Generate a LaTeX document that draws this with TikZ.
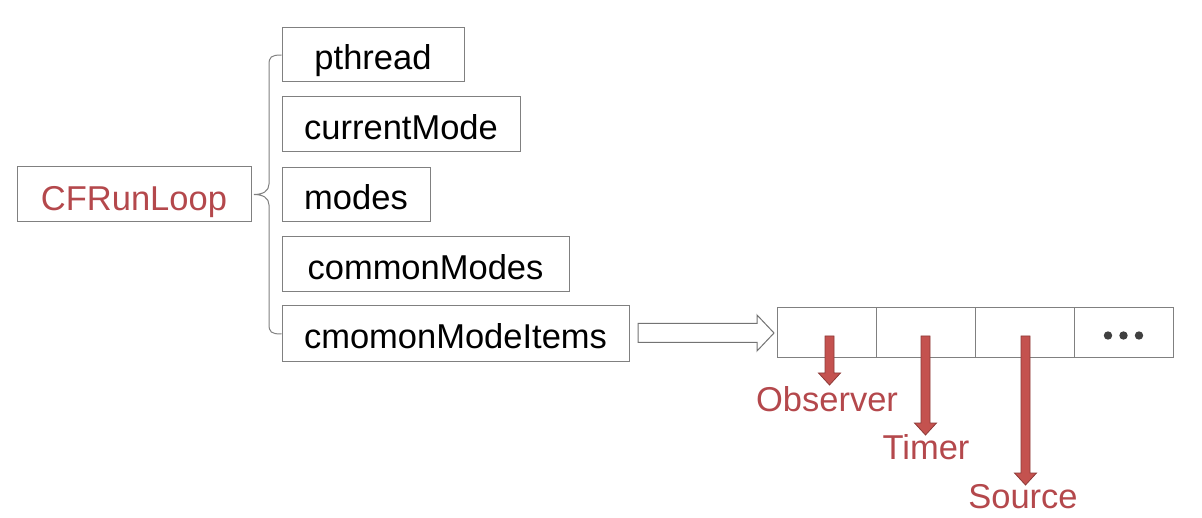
\documentclass[tikz,border=0pt]{standalone}
\usepackage{fontspec}
\setmainfont{Liberation Sans}
\usetikzlibrary{calc}
\definecolor{boxgray}{RGB}{128,128,128}
\definecolor{labred}{RGB}{180,72,76}
\definecolor{arrfill}{RGB}{196,82,79}
\definecolor{arrline}{RGB}{140,58,56}
\definecolor{dotgray}{RGB}{64,64,64}
\newcommand{\redarrow}[3]{%
  \draw[redarr] ({#1-4.5},#2) -- ({#1+4.5},#2) -- ({#1+4.5},{#3-12}) -- ({#1+11},{#3-12}) -- (#1,#3) -- ({#1-11},{#3-12}) -- ({#1-4.5},{#3-12}) -- cycle;}
\tikzset{
  fbox/.style={draw=boxgray, line width=1pt, inner sep=0pt, text height=30pt, text depth=0pt, font=\fontsize{34.5}{41}\selectfont},
  cell/.style={draw=boxgray, line width=1pt, inner sep=0pt, minimum width=99pt, minimum height=50pt},
  lab/.style={text=labred, inner sep=0pt, anchor=base, font=\fontsize{34.5}{41}\selectfont},
  redarr/.style={fill=arrfill, draw=arrline, line width=0.8pt, line join=miter},
  brace/.style={draw=boxgray, line width=1pt},
  hollow/.style={draw=boxgray!90!black, line width=1pt, fill=white, line join=miter}
}
\begin{document}
\begin{tikzpicture}[x=1pt,y=-1pt]
\useasboundingbox (0,0) rectangle (1202,518);
% main box
\node[fbox, text=labred, minimum width=234pt, minimum height=55pt, text height=32pt] (cf) at (134,194.5) {CFRunLoop};
% fields
\node[fbox, minimum width=182pt, minimum height=54pt] (pt) at (373,55) {pthread};
\node[fbox, minimum width=238pt, minimum height=55pt] (cm) at (401,124.5) {currentMode};
\node[fbox, minimum width=148pt, minimum height=54pt] (md) at (356,195) {modes};
\node[fbox, minimum width=287pt, minimum height=55pt] (cms) at (425.5,264.5) {commonModes};
\node[fbox, minimum width=347pt, minimum height=56pt] (cmi) at (455.5,334) {cmomonModeItems};
% brace
\draw[brace] (pt.west) .. controls (271,55) and (269,57) .. (269,65) -- (269,184)
  .. controls (269,191) and (263,194.5) .. (254,194.5)
  .. controls (263,194.5) and (269,198) .. (269,205) -- (269,324)
  .. controls (269,332) and (271,334) .. (cmi.west);
% hollow arrow
\draw[hollow] (638,323.5) -- (757,323.5) -- (757,315) -- (774,333) -- (757,351) -- (757,342.5) -- (638,342.5) -- cycle;
% array cells
\node[cell] (c1) at (826.5,333) {};
\node[cell] (c2) at (925.5,333) {};
\node[cell] (c3) at (1024.5,333) {};
\node[cell] (c4) at (1123.5,333) {};
\foreach \dx in {-15.5,0,15.5} \fill[dotgray] ($(c4.center)+(\dx,2.5)$) circle (4.2pt);
% red arrows
\redarrow{829.5}{336}{385}
\redarrow{925.5}{336}{435}
\redarrow{1025.5}{336}{485}
% labels
\node[lab] (obs) at (827,411) {Observer};
\node[lab] (tim) at (926,459) {Timer};
\node[lab] (src) at (1023,508) {Source};
\end{tikzpicture}
\end{document}
